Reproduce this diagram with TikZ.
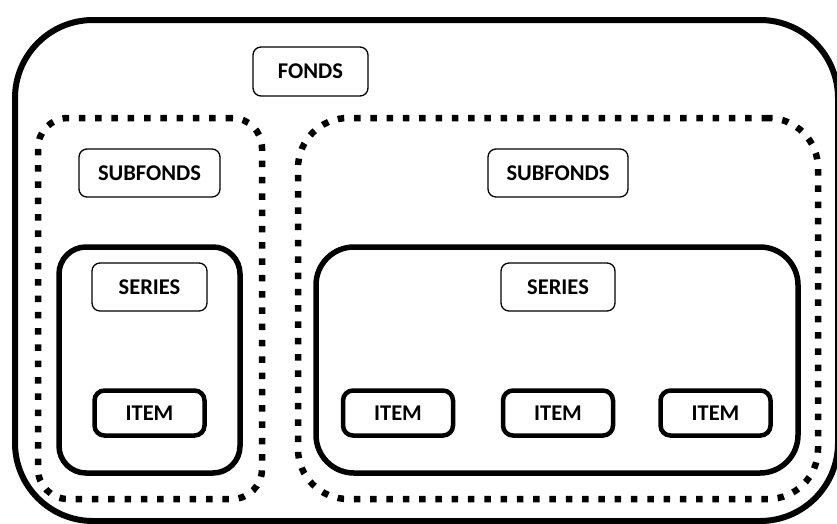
\documentclass[tikz,border=0pt]{standalone}
\usepackage{fontspec}
\setmainfont{Carlito}
\begin{document}
\begin{tikzpicture}[x=1pt,y=-1pt,
  box/.style={draw, rectangle, inner sep=0pt, outer sep=0pt},
  outerbox/.style={box, line width=6pt, rounded corners=78pt},
  dotbox/.style={box, line width=6.5pt, dash pattern=on 6.5pt off 9.8pt},
  serbox/.style={box, line width=5.5pt},
  label/.style={box, line width=1.3pt, rounded corners=8pt, minimum height=48pt,
    font=\fontsize{22.5}{26}\selectfont\bfseries},
  itembox/.style={box, line width=4.5pt, rounded corners=10pt, minimum width=110pt,
    minimum height=45pt, font=\fontsize{22.5}{26}\selectfont\bfseries}
]
\useasboundingbox (0,0) rectangle (837,523);
\clip (0,0) rectangle (837,523);
\fill[white] (0,0) rectangle (837,523);
\node[outerbox, minimum width=823pt, minimum height=501pt] (fondsbox) at (426.5,270.5) {};
\node[dotbox, rounded corners=30pt, minimum width=224pt, minimum height=381pt] (subleft) at (150,308.5) {};
\node[dotbox, rounded corners=50pt, minimum width=520pt, minimum height=381pt] (subright) at (558,308.5) {};
\node[serbox, rounded corners=27pt, minimum width=181pt, minimum height=226pt] (serleft) at (149.5,360) {};
\node[serbox, rounded corners=38pt, minimum width=482pt, minimum height=226pt] (serright) at (557,360) {};
\node[label, minimum width=115pt, minimum height=49pt] (fonds) at (310.5,71.5) {FONDS};
\node[label, minimum width=141pt] (sub1) at (149.5,173) {SUBFONDS};
\node[label, minimum width=140pt] (sub2) at (558,173) {SUBFONDS};
\node[label, minimum width=115pt] (ser1) at (149.5,287) {SERIES};
\node[label, minimum width=114pt] (ser2) at (558,287) {SERIES};
\node[itembox] (item1) at (149.5,413) {ITEM};
\node[itembox] (item2) at (398,413) {ITEM};
\node[itembox] (item3) at (558,413) {ITEM};
\node[itembox] (item4) at (715.5,413) {ITEM};
\end{tikzpicture}
\end{document}
